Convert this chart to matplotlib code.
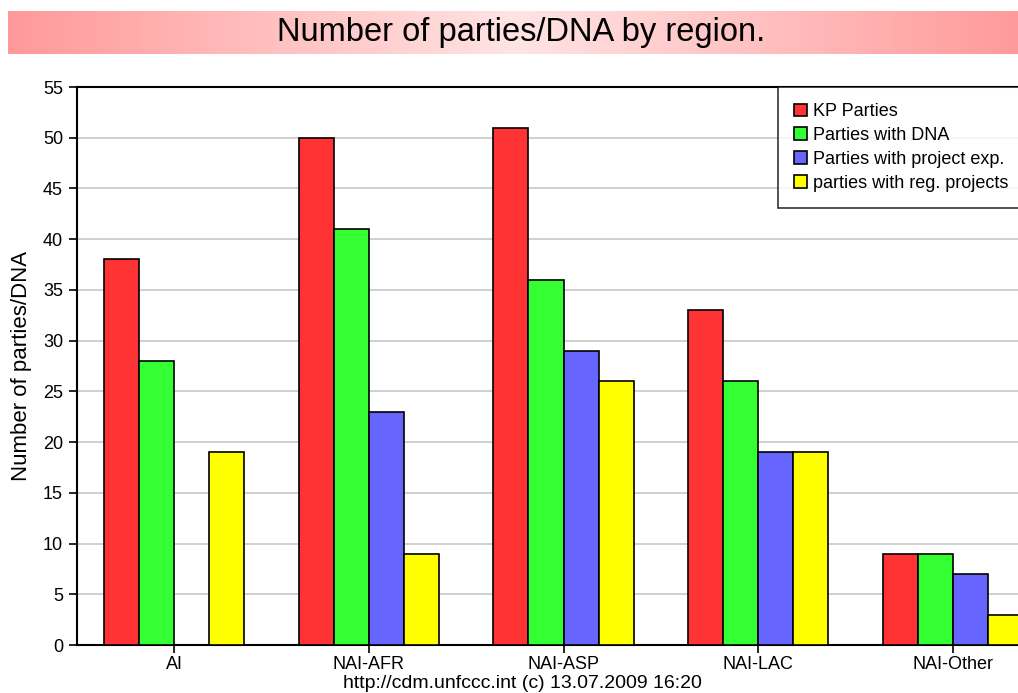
import numpy as np
import matplotlib
matplotlib.use("Agg")
from matplotlib import pyplot as plt
from matplotlib.colors import LinearSegmentedColormap

plt.rcParams["font.family"] = ["Liberation Sans", "DejaVu Sans"]

regions = ["AI", "NAI-AFR", "NAI-ASP", "NAI-LAC", "NAI-Other"]
kp_parties = [38, 50, 51, 33, 9]
parties_dna = [28, 41, 36, 26, 9]
parties_proj_exp = [0, 23, 29, 19, 7]
parties_reg_proj = [19, 9, 26, 19, 3]
series_names = ["KP Parties", "Parties with DNA", "Parties with project exp.", "parties with reg. projects"]
colors = ["#ff3333", "#33ff33", "#6666ff", "#ffff00"]

W, H = 1018, 693
fig = plt.figure(figsize=(W / 100, H / 100), dpi=100)

# title banner with pink gradient
ax_t = fig.add_axes([8 / W, (H - 54) / H, 1.0, 43 / H])
cmap = LinearSegmentedColormap.from_list("banner", ["#ff9999", "#ffe4e4", "#ff9999"])
grad = np.linspace(0, 1, 256).reshape(1, -1)
ax_t.imshow(grad, aspect="auto", cmap=cmap, extent=[0, 1, 0, 1])
ax_t.axis("off")
fig.text(521 / W, (H - 33) / H, "Number of parties/DNA by region.", ha="center", va="center", fontsize=23.5)

ax = fig.add_axes([77 / W, (H - 645) / H, (1050 - 77) / W, (645 - 87) / H])
x = np.arange(len(regions))
width = 0.18
data = [kp_parties, parties_dna, parties_proj_exp, parties_reg_proj]
for i, vals in enumerate(data):
    ax.bar(x + (i - 1.5) * width, vals, width, color=colors[i], edgecolor="black", linewidth=1.2,
           label=series_names[i], zorder=3)

ax.set_xlim(-0.5, 4.5)
ax.set_ylim(0, 55)
ax.set_yticks(np.arange(0, 56, 5))
ax.set_xticks(x)
ax.set_xticklabels(regions)
ax.tick_params(axis="both", labelsize=13, length=6, width=1.2, colors="black")
ax.tick_params(axis="x", pad=2)
ax.tick_params(axis="y", pad=4)
ax.grid(axis="y", color="#c8c8c8", linewidth=1.2, zorder=0)
for s in ax.spines.values():
    s.set_linewidth(1.5)
ax.set_ylabel("Number of parties/DNA", fontsize=16, labelpad=8)

leg = fig.legend(loc="upper left", bbox_to_anchor=(778 / W, (H - 87) / H), fontsize=13,
                 frameon=True, fancybox=False, handlelength=0.7, handleheight=0.7,
                 handletextpad=0.35, borderpad=0.9, labelspacing=0.38, borderaxespad=0)
leg.get_frame().set_edgecolor("black")
leg.get_frame().set_linewidth(1.2)

fig.text(522 / W, (H - 684) / H, "http://cdm.unfccc.int (c) 13.07.2009 16:20", ha="center", va="center", fontsize=14)

plt.savefig("out.png", dpi=100)
